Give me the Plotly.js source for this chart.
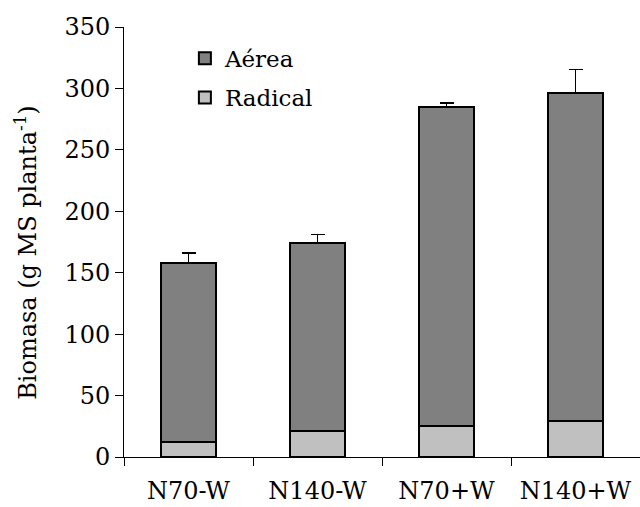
<!DOCTYPE html>
<html>
<head>
<meta charset="utf-8">
<script src="https://cdn.plot.ly/plotly-3.0.1.min.js"></script>
<style>html,body{margin:0;padding:0;background:#fff;}#chart{width:640px;height:507px;}</style>
</head>
<body>
<div id="chart"></div>
<script>
var categories = ["N70-W", "N140-W", "N70+W", "N140+W"];
var radical = [12, 21, 25, 29];
var radicalErr = [1, 3, 2, 3.5];
var aerea = [146, 153, 260, 267.5];
var aereaErr = [8, 7, 3, 19];
var yTicks = [0, 50, 100, 150, 200, 250, 300, 350];
var yTitle = "Biomasa (g MS planta<sup>-1</sup>)";

var FONT = "DejaVu Serif";

var traces = [
  {
    type: "bar", name: "Radical", x: categories, y: radical, legend: "legend2",
    marker: {color: "#C0C0C0", line: {color: "#000000", width: 2}},
    error_y: {type: "data", array: radicalErr, arrayminus: radicalErr.map(function(){return 0;}), symmetric: false, color: "#000000", thickness: 1.5, width: 6},
    width: 0.42
  },
  {
    type: "bar", name: "Aérea", x: categories, y: aerea, legend: "legend",
    marker: {color: "#808080", line: {color: "#000000", width: 2}},
    error_y: {type: "data", array: aereaErr, arrayminus: aereaErr.map(function(){return 0;}), symmetric: false, color: "#000000", thickness: 1.5, width: 7},
    width: 0.42
  }
];

var legFont = {family: FONT, size: 23, color: "#000000"};

var layout = {
  width: 640, height: 507,
  margin: {l: 124, r: 0, t: 27, b: 50},
  paper_bgcolor: "#ffffff", plot_bgcolor: "#ffffff",
  barmode: "stack",
  showlegend: true,
  font: {family: FONT, size: 24, color: "#000000"},
  legend: {x: 0.118, y: 0.977, xanchor: "left", yanchor: "top", bgcolor: "rgba(0,0,0,0)", font: legFont},
  legend2: {x: 0.118, y: 0.886, xanchor: "left", yanchor: "top", bgcolor: "rgba(0,0,0,0)", font: legFont},
  xaxis: {
    type: "category", range: [-0.5, 3.5],
    showline: true, linecolor: "#000000", linewidth: 1,
    ticks: "outside", tickson: "boundaries", ticklen: 8, tickcolor: "#000000", tickwidth: 1,
    showgrid: false, zeroline: false,
    tickfont: {family: FONT, size: 24, color: "#000000"},
    ticklabelstandoff: 12
  },
  yaxis: {
    range: [0, 350], tickvals: yTicks,
    showline: true, linecolor: "#000000", linewidth: 1,
    ticks: "outside", ticklen: 8, tickcolor: "#000000", tickwidth: 1,
    showgrid: false, zeroline: false,
    tickfont: {family: FONT, size: 24, color: "#000000"}
  },
  annotations: [{
    text: yTitle, textangle: -90, showarrow: false,
    xref: "paper", yref: "paper", x: -0.19, y: 0.477, xanchor: "center", yanchor: "middle",
    font: {family: FONT, size: 24, color: "#000000"}
  }]
};

Plotly.newPlot("chart", traces, layout, {displayModeBar: false, staticPlot: true});
</script>
</body>
</html>
